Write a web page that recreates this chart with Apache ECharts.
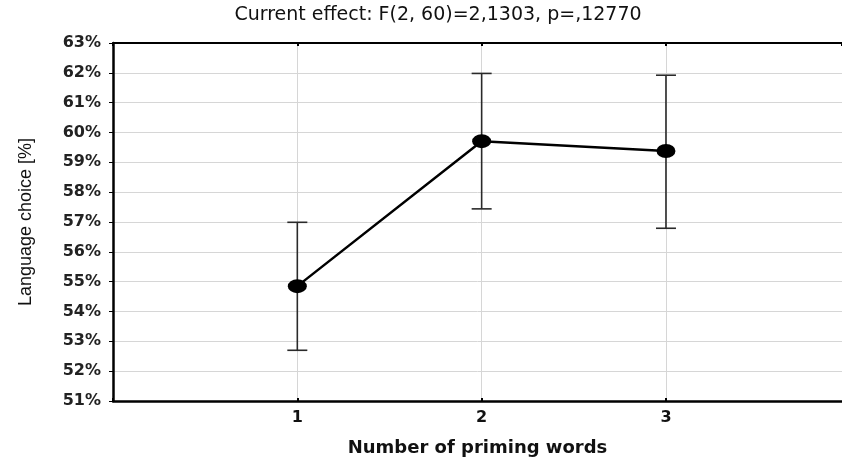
<!DOCTYPE html>
<html>
<head>
<meta charset="utf-8">
<script src="https://cdn.jsdelivr.net/npm/echarts@6/dist/echarts.min.js"></script>
<style>
  html, body { margin: 0; padding: 0; background: #fff; }
  #chart { width: 842px; height: 462px; }
</style>
</head>
<body>
<div id="chart"></div>
<script>
// Mean language choice by number of priming words, with confidence intervals
const categories = [1, 2, 3];
const means = [54.85, 59.71, 59.38];
const lower = [52.70, 57.44, 56.79];
const upper = [56.99, 61.98, 61.92];
const yTicks = [51, 52, 53, 54, 55, 56, 57, 58, 59, 60, 61, 62, 63];

const titleText = 'Current effect: F(2, 60)=2,1303, p=,12770';
const xName = 'Number of priming words';
const yName = 'Language choice [%]';

const lineData = categories.map((c, i) => [c, means[i]]);
const errData = categories.map((c, i) => [c, lower[i], upper[i]]);

const chart = echarts.init(document.getElementById('chart'), null, { renderer: 'canvas' });

const axisFont = 'DejaVu Sans';
// the x range runs a little past the last category; the frame is cut at the right edge
const xMin = 0;
const xMax = 3.955;

chart.setOption({
  backgroundColor: '#ffffff',
  animation: false,
  title: {
    text: titleText,
    left: 433,
    top: 1,
    textAlign: 'center',
    textStyle: { fontFamily: axisFont, fontSize: 19, fontWeight: 'normal', color: '#111' }
  },
  grid: { left: 113, top: 43, right: 0, bottom: 61, containLabel: false },
  xAxis: [
    {
      type: 'value',
      position: 'bottom',
      min: xMin,
      max: xMax,
      interval: 1,
      name: xName,
      nameLocation: 'middle',
      nameGap: 38,
      nameTextStyle: { fontFamily: axisFont, fontSize: 18, fontWeight: 'bold', color: '#111' },
      axisLine: { show: true, onZero: false, lineStyle: { color: '#000', width: 2.5 } },
      axisTick: { show: true, inside: true, length: 3, lineStyle: { color: '#000', width: 2 } },
      axisLabel: {
        margin: 9,
        fontFamily: axisFont, fontSize: 16, fontWeight: 'bold', color: '#111',
        showMaxLabel: false,
        formatter: v => (categories.indexOf(v) >= 0 ? String(v) : '')
      },
      splitLine: { show: true, lineStyle: { color: '#d6d6d6', width: 1 } }
    },
    {
      type: 'value',
      position: 'top',
      min: xMin,
      max: xMax,
      interval: 1,
      axisLine: { show: true, onZero: false, lineStyle: { color: '#000', width: 2 } },
      axisTick: { show: true, inside: true, length: 3, lineStyle: { color: '#000', width: 2 } },
      axisLabel: { show: false },
      splitLine: { show: false }
    }
  ],
  yAxis: {
    type: 'value',
    min: yTicks[0],
    max: yTicks[yTicks.length - 1],
    interval: 1,
    name: yName,
    nameLocation: 'middle',
    nameRotate: 90,
    nameGap: 78,
    nameTextStyle: { fontFamily: 'Liberation Sans', fontSize: 18, color: '#111' },
    axisLine: { show: true, onZero: false, lineStyle: { color: '#000', width: 2.5 } },
    axisTick: { show: true, inside: false, length: 4, lineStyle: { color: '#000', width: 1 } },
    axisLabel: {
      margin: 12,
      fontFamily: axisFont, fontSize: 16, fontWeight: 'bold', color: '#222',
      formatter: v => v + '%'
    },
    splitLine: { show: true, lineStyle: { color: '#d6d6d6', width: 1 } }
  },
  series: [
    {
      type: 'custom',
      name: 'ci',
      xAxisIndex: 0,
      z: 3,
      renderItem: function (params, api) {
        const x = api.value(0);
        const lo = api.coord([x, api.value(1)]);
        const hi = api.coord([x, api.value(2)]);
        const half = 10;
        const style = { stroke: '#2a2a2a', lineWidth: 1.6, fill: null };
        return {
          type: 'group',
          children: [
            { type: 'line', shape: { x1: lo[0], y1: lo[1], x2: hi[0], y2: hi[1] }, style: style },
            { type: 'line', shape: { x1: hi[0] - half, y1: hi[1], x2: hi[0] + half, y2: hi[1] }, style: style },
            { type: 'line', shape: { x1: lo[0] - half, y1: lo[1], x2: lo[0] + half, y2: lo[1] }, style: style }
          ]
        };
      },
      encode: { x: 0, y: [1, 2] },
      data: errData
    },
    {
      type: 'line',
      name: 'mean',
      xAxisIndex: 0,
      z: 5,
      data: lineData,
      symbol: 'circle',
      symbolSize: [19, 14],
      itemStyle: { color: '#000' },
      lineStyle: { color: '#000', width: 2.5 }
    }
  ]
});
</script>
</body>
</html>
